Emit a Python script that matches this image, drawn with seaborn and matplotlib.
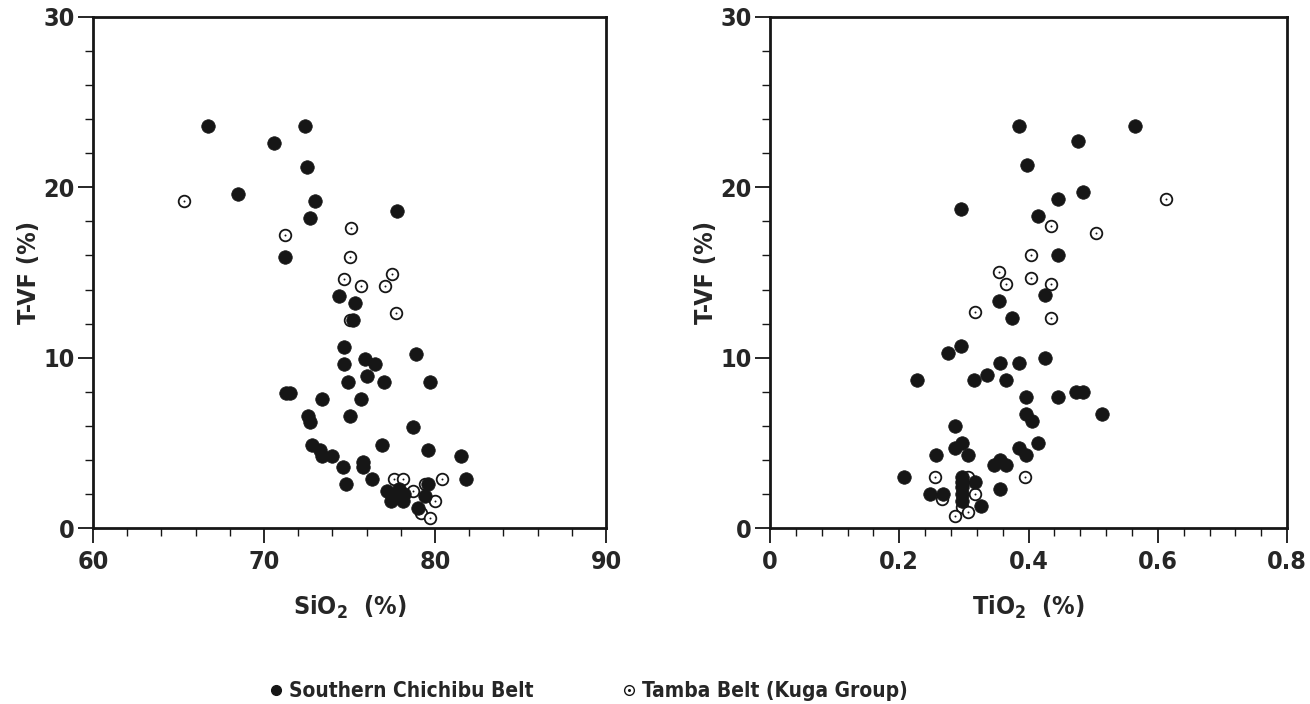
import matplotlib
matplotlib.use("Agg")
import matplotlib.pyplot as plt
from matplotlib import font_manager
from matplotlib.lines import Line2D
from matplotlib.legend_handler import HandlerTuple
from matplotlib.ticker import MultipleLocator
import seaborn as sns
import pandas as pd

# ---- data ----
# SiO2 vs T-VF, Southern Chichibu Belt (filled)
sio2_chichibu = [66.7, 72.4, 70.6, 72.5, 68.5, 73.0, 72.7, 77.8, 71.2, 74.4,
                 75.3, 75.2, 74.7, 78.9, 75.9, 76.5, 74.7, 74.9, 76.0, 77.0,
                 79.7, 71.3, 71.5, 73.4, 75.7, 72.6, 72.7, 75.0, 78.7, 72.8,
                 73.3, 73.4, 74.0, 76.9, 79.6, 81.5, 74.6, 75.8, 75.8, 76.3,
                 74.8, 81.8, 79.6, 77.2, 77.9, 78.2, 77.4, 78.1, 77.8, 79.4,
                 79.0]
tvf_si_chichibu = [23.6, 23.6, 22.6, 21.2, 19.6, 19.2, 18.2, 18.6, 15.9, 13.6,
                   13.2, 12.2, 10.6, 10.2, 9.9, 9.6, 9.6, 8.6, 8.9, 8.6,
                   8.6, 7.9, 7.9, 7.6, 7.6, 6.6, 6.2, 6.6, 5.9, 4.9,
                   4.6, 4.2, 4.2, 4.9, 4.6, 4.2, 3.6, 3.9, 3.6, 2.9,
                   2.6, 2.9, 2.6, 2.2, 2.3, 2.0, 1.6, 1.6, 1.9, 1.9,
                   1.2]
# SiO2 vs T-VF, Tamba Belt (open)
sio2_tamba = [65.3, 71.2, 75.1, 75.0, 77.5, 74.7, 75.7, 77.1, 75.0, 77.7,
              77.6, 78.1, 80.4, 79.4, 78.7, 80.0, 79.2, 79.7]
tvf_si_tamba = [19.2, 17.2, 17.6, 15.9, 14.9, 14.6, 14.2, 14.2, 12.2, 12.6,
                2.9, 2.9, 2.9, 2.6, 2.2, 1.6, 0.9, 0.6]

# TiO2 vs T-VF, Southern Chichibu Belt (filled)
tio2_chichibu = [0.386, 0.564, 0.476, 0.397, 0.485, 0.445, 0.296, 0.415, 0.445, 0.425,
                 0.355, 0.375, 0.296, 0.276, 0.425, 0.356, 0.385, 0.227, 0.316, 0.335,
                 0.365, 0.396, 0.445, 0.474, 0.485, 0.514, 0.396, 0.405, 0.286, 0.297,
                 0.286, 0.257, 0.306, 0.385, 0.396, 0.415, 0.356, 0.346, 0.365, 0.207,
                 0.297, 0.297, 0.297, 0.297, 0.297, 0.317, 0.356, 0.247, 0.267, 0.326]
tvf_ti_chichibu = [23.6, 23.6, 22.7, 21.3, 19.7, 19.3, 18.7, 18.3, 16.0, 13.7,
                   13.3, 12.3, 10.7, 10.3, 10.0, 9.7, 9.7, 8.7, 8.7, 9.0,
                   8.7, 7.7, 7.7, 8.0, 8.0, 6.7, 6.7, 6.3, 6.0, 5.0,
                   4.7, 4.3, 4.3, 4.7, 4.3, 5.0, 4.0, 3.7, 3.7, 3.0,
                   3.0, 2.7, 2.4, 2.0, 1.6, 2.7, 2.3, 2.0, 2.0, 1.3]
# TiO2 vs T-VF, Tamba Belt (open)
tio2_tamba = [0.613, 0.435, 0.504, 0.404, 0.355, 0.404, 0.365, 0.435, 0.317, 0.435,
              0.256, 0.395, 0.306, 0.266, 0.317, 0.297, 0.306, 0.286]
tvf_ti_tamba = [19.3, 17.7, 17.3, 16.0, 15.0, 14.7, 14.3, 14.3, 12.7, 12.3,
                3.0, 3.0, 3.0, 1.7, 2.0, 1.25, 0.96, 0.7]

sio2_ticks = [60, 70, 80, 90]
tio2_ticks = [0, 0.2, 0.4, 0.6, 0.8]
tio2_ticklabels = ["0", "0.2", "0.4", "0.6", "0.8"]
tvf_ticks = [0, 10, 20, 30]

label_chichibu = "Southern Chichibu Belt"
label_tamba = "Tamba Belt (Kuga Group)"

# ---- style ----
sns.set_style("white")
installed = {f.name for f in font_manager.fontManager.ttflist}
if "Liberation Sans Narrow" in installed:
    fam = "Liberation Sans Narrow"
    plt.rcParams["font.stretch"] = "normal"
else:
    fam = "DejaVu Sans"
    plt.rcParams["font.stretch"] = "condensed"
plt.rcParams["font.family"] = [fam, "DejaVu Sans"]
plt.rcParams["font.weight"] = "bold"
plt.rcParams["mathtext.fontset"] = "custom"
plt.rcParams["mathtext.rm"] = fam + ":bold"
plt.rcParams["mathtext.default"] = "rm"

ink = "#161616"

fig = plt.figure(figsize=(13.1, 7.04), dpi=100)
ax1 = fig.add_axes([0.0710, 0.2500, 0.3916, 0.7259])
ax2 = fig.add_axes([0.5878, 0.2500, 0.3947, 0.7259])


def draw(ax, x_ch, y_ch, x_tb, y_tb):
    df_ch = pd.DataFrame({"x": x_ch, "y": y_ch})
    df_tb = pd.DataFrame({"x": x_tb, "y": y_tb})
    sns.scatterplot(data=df_tb, x="x", y="y", ax=ax, s=70, facecolor="white",
                    edgecolor=ink, linewidth=1.3, legend=False, zorder=3)
    sns.scatterplot(data=df_tb, x="x", y="y", ax=ax, s=2, color=ink,
                    linewidth=0, legend=False, zorder=4)
    sns.scatterplot(data=df_ch, x="x", y="y", ax=ax, s=95, color=ink,
                    edgecolor=ink, linewidth=0.5, legend=False, zorder=5)
    for sp in ax.spines.values():
        sp.set_visible(True)
        sp.set_linewidth(2.0)
        sp.set_color(ink)
    ax.set_ylim(0, 30)
    ax.set_yticks(tvf_ticks)
    ax.yaxis.set_minor_locator(MultipleLocator(2))
    ax.tick_params(which="major", direction="out", length=11, width=1.3,
                   color=ink, labelsize=18, pad=2, bottom=True, left=True,
                   top=False, right=False)
    ax.tick_params(axis="x", which="major", pad=5)
    ax.tick_params(which="minor", direction="out", length=6, width=1.0,
                   color=ink, bottom=True, left=True, top=False, right=False)
    ax.set_ylabel("T-VF (%)", fontsize=18, fontweight="bold", labelpad=2)


draw(ax1, sio2_chichibu, tvf_si_chichibu, sio2_tamba, tvf_si_tamba)
ax1.set_xlim(60, 90)
ax1.set_xticks(sio2_ticks)
ax1.xaxis.set_minor_locator(MultipleLocator(2))
ax1.set_xlabel("SiO$_2$  (%)", fontsize=18, fontweight="bold", labelpad=14)

draw(ax2, tio2_chichibu, tvf_ti_chichibu, tio2_tamba, tvf_ti_tamba)
ax2.set_xlim(0, 0.8)
ax2.set_xticks(tio2_ticks, tio2_ticklabels)
ax2.xaxis.set_minor_locator(MultipleLocator(0.04))
ax2.set_xlabel("TiO$_2$  (%)", fontsize=18, fontweight="bold", labelpad=14)
for ax in (ax1, ax2):
    for t in ax.get_xticklabels() + ax.get_yticklabels():
        t.set_fontweight("bold")

h_ch = Line2D([], [], marker="o", linestyle="none", markersize=7,
              markerfacecolor=ink, markeredgecolor=ink)
h_tb_ring = Line2D([], [], marker="o", linestyle="none", markersize=7,
                   markerfacecolor="white", markeredgecolor=ink, markeredgewidth=1.0)
h_tb_dot = Line2D([], [], marker="o", linestyle="none", markersize=1.2,
                  markerfacecolor=ink, markeredgecolor=ink)
fig.legend([h_ch, (h_tb_ring, h_tb_dot)], [label_chichibu, label_tamba],
           handler_map={tuple: HandlerTuple(ndivide=1, pad=0)},
           loc="center left", bbox_to_anchor=(0.205, 0.018), ncol=2, frameon=False,
           prop={"family": [fam, "DejaVu Sans"], "weight": "bold",
                 "size": 15, "stretch": "condensed"},
           handlelength=0.7, handletextpad=0.3, columnspacing=4.2,
           borderaxespad=0, borderpad=0)

fig.savefig("out.png", dpi=100, facecolor="white")
